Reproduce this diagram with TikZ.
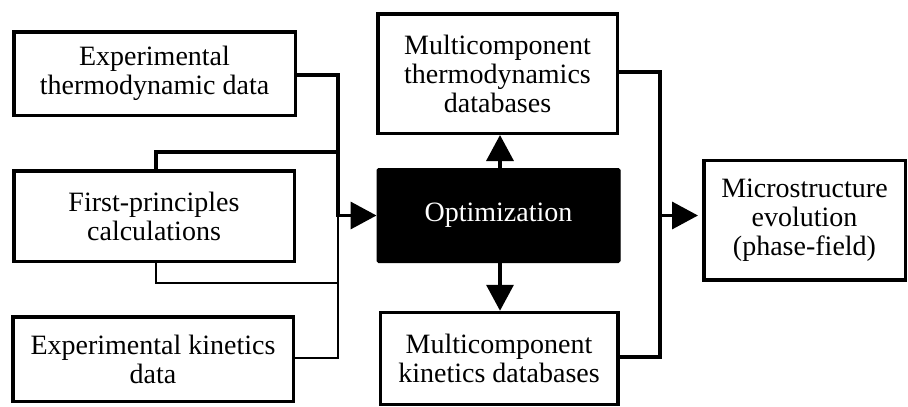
\documentclass[tikz,border=0pt]{standalone}
\usepackage{fontspec}
\setmainfont{Liberation Serif}
\usetikzlibrary{arrows.meta}
\begin{document}
\begin{tikzpicture}[x=1pt,y=-1pt,
  box/.style={draw=black,line width=3.5pt,fill=white,align=center,inner sep=0pt,
    font=\fontsize{28}{29}\selectfont},
  optbox/.style={fill=black,draw=black,line width=1pt,rounded corners=1.5pt,text=white,
    font=\fontsize{28}{29}\selectfont,inner sep=0pt},
  thick line/.style={line width=3.5pt},
  thin line/.style={line width=1.2pt},
  head/.style={-{Triangle[length=26pt,width=27pt]}},
]
\useasboundingbox (0,0) rectangle (908,407);
% left column
\node[box,minimum width=281.5pt,minimum height=83.5pt] (etd) at (154.5,73.5)
  {Experimental\\thermodynamic data};
\node[box,minimum width=280.5pt,minimum height=90.5pt] (fpc) at (154,216)
  {First-principles\\calculations};
\node[box,minimum width=280.5pt,minimum height=84.5pt] (ekd) at (153,359)
  {Experimental kinetics\\data};
% middle column
\node[box,minimum width=239.5pt,minimum height=119.5pt] (mtd) at (497.5,73.5)
  {Multicomponent\\thermodynamics\\databases};
\node[optbox,minimum width=243pt,minimum height=94pt] (opt) at (498.5,215.5)
  {Optimization};
\node[box,minimum width=237.5pt,minimum height=92pt] (mkd) at (499,358.5)
  {Multicomponent\\kinetics databases};
% right
\node[box,minimum width=201.5pt,minimum height=119.5pt] (mic) at (804.5,220)
  {Microstructure\\evolution\\(phase-field)};
% junction coordinates
\coordinate (jl) at (338,215.5);
\coordinate (jr) at (660,215.5);
\coordinate (fpct) at (156,0);
% left connectors
\draw[thin line] (fpc.south -| fpct) |- (338,283) -- (338,215.5);
\draw[thin line] (ekd.east |- 0,358) -| (jl);
\draw[thick line] (fpc.north -| fpct) |- (338,152);
\draw[thick line] (etd.east |- 0,75) -| (jl);
\draw[thick line,head,shorten <=-1.75pt] (jl) -- (opt.west);
% middle arrows
\draw[thick line,head] (opt.north -| 500,0) -- (mtd.south -| 500,0);
\draw[thick line,head] (opt.south -| 500,0) -- (mkd.north -| 500,0);
% right connectors
\draw[thick line] (mtd.east |- 0,72) -| (jr) |- (mkd.east |- 0,357);
\draw[thick line,head,shorten >=4pt] (jr) -- (mic.west |- jr);
\end{tikzpicture}
\end{document}
